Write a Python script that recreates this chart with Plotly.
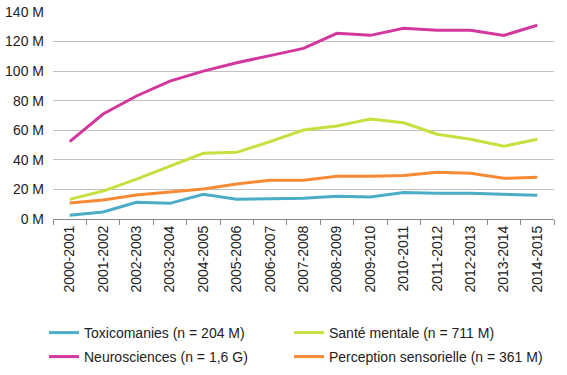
import plotly.graph_objects as go

categories = ["2000-2001", "2001-2002", "2002-2003", "2003-2004", "2004-2005",
              "2005-2006", "2006-2007", "2007-2008", "2008-2009", "2009-2010",
              "2010-2011", "2011-2012", "2012-2013", "2013-2014", "2014-2015"]

toxicomanies = [2.5, 4.7, 11.3, 10.6, 16.7, 13.3, 13.7, 14.0, 15.4, 14.9, 18.0, 17.4, 17.4, 16.7, 16.0]
sante_mentale = [13.3, 18.9, 27.0, 35.8, 44.4, 45.1, 52.3, 60.2, 62.9, 67.6, 65.1, 57.3, 53.9, 49.2, 53.9]
neurosciences = [52.3, 71.0, 83.2, 93.3, 100.0, 105.7, 110.5, 115.4, 125.6, 124.2, 129.0, 127.6, 127.6, 124.2, 131.0]
perception = [10.8, 12.8, 16.2, 18.0, 20.3, 23.7, 26.2, 26.2, 28.9, 28.9, 29.5, 31.6, 30.9, 27.5, 28.2]

series_names = ["Toxicomanies (n = 204 M)", "Santé mentale (n = 711 M)",
                "Neurosciences (n = 1,6 G)", "Perception sensorielle (n = 361 M)"]
series_values = [toxicomanies, sante_mentale, neurosciences, perception]
colors = ["#4AACC6", "#C4E13F", "#D3379D", "#F98A35"]
legend_ids = ["legend", "legend2", "legend3", "legend4"]

y_tickvals = [0, 20, 40, 60, 80, 100, 120, 140]
y_ticktext = ["0 M", "20 M", "40 M", "60 M", "80 M", "100 M", "120 M", "140 M"]

fig = go.Figure()
for name, vals, col, lg in zip(series_names, series_values, colors, legend_ids):
    fig.add_trace(go.Scatter(x=categories, y=vals, mode="lines", name=name,
                             line=dict(color=col, width=3), legend=lg))

font = "Arial, Liberation Sans, sans-serif"
legend_common = dict(orientation="h", xanchor="left", yanchor="middle",
                     xref="container", yref="container", itemwidth=30,
                     bgcolor="rgba(0,0,0,0)", font=dict(size=14, family=font))
col1, col2 = 44 / 567, 289 / 567
row1, row2 = 1 - 333 / 375, 1 - 357 / 375
fig.update_layout(
    width=567, height=375,
    margin=dict(l=53, r=13, t=12, b=156),
    plot_bgcolor="white", paper_bgcolor="white",
    font=dict(family=font, size=14, color="#222222"),
    showlegend=True,
    legend=dict(x=col1, y=row1, **legend_common),
    legend2=dict(x=col2, y=row1, **legend_common),
    legend3=dict(x=col1, y=row2, **legend_common),
    legend4=dict(x=col2, y=row2, **legend_common),
    xaxis=dict(type="category", showgrid=False, showline=True, linecolor="#888888",
               linewidth=1, ticks="outside", tickson="boundaries", ticklen=5,
               tickcolor="#888888", tickangle=-90, tickfont=dict(size=14),
               range=[-0.5, 14.5], automargin=False),
    yaxis=dict(range=[0, 140], tickvals=y_tickvals, ticktext=y_ticktext,
               showgrid=True, gridcolor="#C0C0C0", gridwidth=1, zeroline=False,
               showline=False, ticks="", tickfont=dict(size=14), automargin=False,
               ticklabelstandoff=8),
)

fig.write_html("out.html", config={"displayModeBar": False},
               post_script="document.body.style.margin='0';")
